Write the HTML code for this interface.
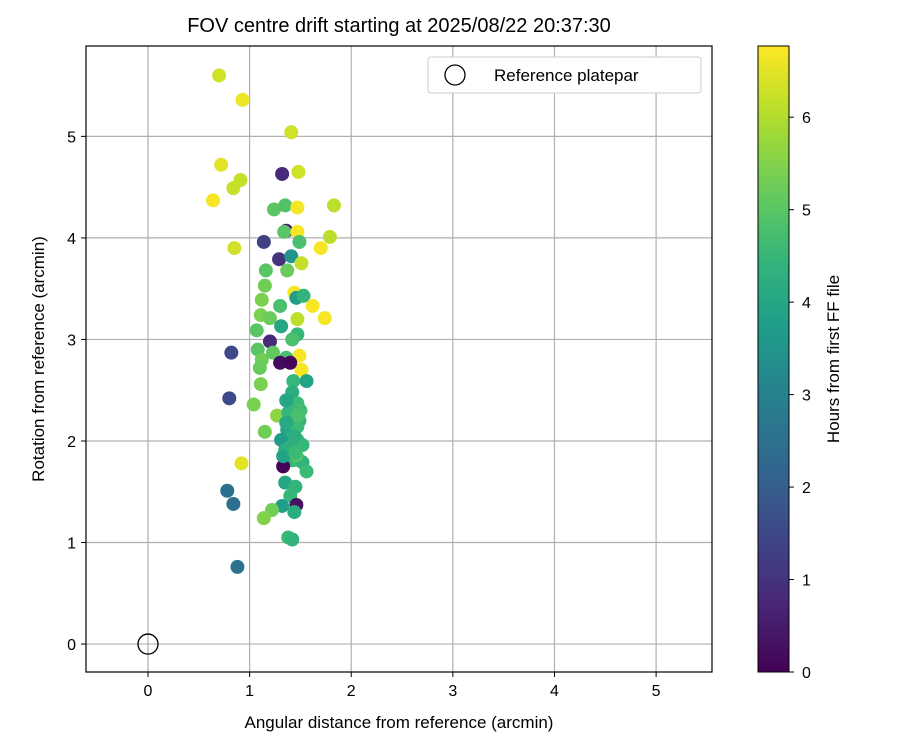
<!DOCTYPE html>
<html><head><meta charset="utf-8"><style>
body{margin:0;background:#fff;}
svg text{font-family:"Liberation Sans","DejaVu Sans",sans-serif;fill:#000;}
</style></head><body>
<svg id="chart" width="900" height="750" xmlns="http://www.w3.org/2000/svg">
<rect width="900" height="750" fill="#fff"/>
<text x="399" y="32" font-size="20" text-anchor="middle">FOV centre drift starting at 2025/08/22 20:37:30</text>
<g id="grid"></g>
<g id="pts"></g>
<circle id="refm" r="10" fill="none" stroke="#000" stroke-width="1.3"/>
<rect x="86" y="46" width="626" height="626" fill="none" stroke="#000" stroke-width="1.2"/>
<g id="ticks"></g>
<text x="399" y="728" font-size="17" text-anchor="middle">Angular distance from reference (arcmin)</text>
<text transform="translate(44,359) rotate(-90)" font-size="17" text-anchor="middle">Rotation from reference (arcmin)</text>
<g>
<rect x="428" y="57" width="273" height="36" rx="3" fill="#fff" stroke="#ccc"/>
<circle cx="455" cy="75" r="10" fill="none" stroke="#000" stroke-width="1.3"/>
<text x="494" y="81" font-size="17">Reference platepar</text>
</g>
<defs><linearGradient id="vir" x1="0" y1="1" x2="0" y2="0"></linearGradient></defs>
<rect x="758" y="46" width="31" height="626" fill="url(#vir)" stroke="#000" stroke-width="1"/>
<g id="cticks"></g>
<text transform="translate(839,359) rotate(-90)" font-size="17" text-anchor="middle">Hours from first FF file</text>
</svg>
<script>
const xs=[0.70,0.93,1.41,0.72,1.32,1.48,0.91,0.84,0.64,1.83,1.24,1.35,1.47,1.36,1.34,1.47,1.79,1.70,0.85,1.14,1.49,1.29,1.41,1.51,1.37,1.16,1.15,1.12,1.44,1.46,1.53,1.62,1.74,1.47,1.11,1.20,1.31,1.07,1.30,1.47,1.42,1.20,0.82,1.08,1.12,1.23,1.49,1.36,1.10,1.51,1.30,1.40,1.56,1.43,1.11,0.80,1.42,1.04,1.27,1.42,1.47,1.15,1.40,1.49,1.37,1.38,1.47,1.31,1.52,1.40,1.42,1.49,1.33,1.52,1.35,1.46,1.56,0.92,0.78,0.84,1.35,1.45,1.40,1.46,1.44,1.32,1.22,1.14,1.38,1.42,0.88,1.38,1.47,1.36,1.44,1.50,1.33,1.41,1.48,1.36,1.45];
const ys=[5.60,5.36,5.04,4.72,4.63,4.65,4.57,4.49,4.37,4.32,4.28,4.32,4.30,4.07,4.06,4.06,4.01,3.90,3.90,3.96,3.96,3.79,3.82,3.75,3.68,3.68,3.53,3.39,3.46,3.41,3.43,3.33,3.21,3.20,3.24,3.21,3.13,3.09,3.33,3.05,3.00,2.98,2.87,2.90,2.80,2.87,2.84,2.82,2.72,2.70,2.77,2.77,2.59,2.59,2.56,2.42,2.48,2.36,2.25,2.32,2.37,2.09,2.20,2.20,2.11,2.00,2.01,2.01,1.96,1.91,1.81,1.81,1.75,1.79,1.91,1.86,1.70,1.78,1.51,1.38,1.59,1.55,1.46,1.37,1.30,1.36,1.32,1.24,1.05,1.03,0.76,2.28,2.14,2.40,2.05,2.30,1.85,1.95,2.25,2.18,1.88];
const hours=[6.3,6.6,6.3,6.5,0.8,6.3,6.2,6.2,6.7,6.1,5.0,4.9,6.7,0.5,5.0,6.7,6.1,6.7,6.3,1.3,4.8,1.0,3.5,6.2,5.2,5.0,5.3,5.4,6.7,3.7,4.4,6.7,6.7,6.1,5.4,5.2,4.0,5.0,4.8,4.5,4.8,0.8,1.5,5.0,5.3,5.1,6.7,4.8,5.2,6.7,0.2,0.1,3.9,4.5,5.4,1.5,4.2,5.4,5.6,4.5,4.6,5.3,4.5,4.4,4.0,4.3,4.6,3.7,4.5,4.1,4.5,4.7,0.1,4.4,4.3,5.0,4.6,6.5,2.5,2.5,4.0,4.4,4.5,0.3,4.2,3.8,5.3,5.5,4.6,4.4,2.6,4.5,4.6,4.0,4.2,4.7,3.9,4.3,4.8,4.1,4.6];
const xTicks=[0,1,2,3,4,5];
const yTicks=[0,1,2,3,4,5];
const cTicks=[0,1,2,3,4,5,6];
const X0=86,X1=712,Y0=46,Y1=672,xmin=-0.61,xmax=5.55,ymin=-0.275,ymax=5.89,cmax=6.77;
const sx=v=>X0+(v-xmin)/(xmax-xmin)*(X1-X0);
const sy=v=>Y1-(v-ymin)/(ymax-ymin)*(Y1-Y0);
const sc=v=>Y1-v/cmax*(Y1-Y0);
const V=[[68,1,84],[72,40,120],[62,73,137],[49,104,142],[38,130,142],[31,158,137],[53,183,121],[109,205,89],[180,222,44],[253,231,37]];
function vir(t){t=Math.max(0,Math.min(1,t))*9;const i=Math.min(8,Math.floor(t)),f=t-i;const c=V[i].map((a,k)=>Math.round(a+(V[i+1][k]-a)*f));return `rgb(${c})`;}
const NS="http://www.w3.org/2000/svg";
function mk(tag,attrs,parent){const e=document.createElementNS(NS,tag);for(const k in attrs)e.setAttribute(k,attrs[k]);parent.appendChild(e);return e;}
const grid=document.getElementById('grid'),ticks=document.getElementById('ticks');
xTicks.forEach(t=>{const x=sx(t);
const g=mk('line',{x1:x,x2:x,y1:Y0,y2:Y1,stroke:'#b0b0b0','stroke-width':1.2},grid);


mk('line',{x1:x,x2:x,y1:Y1,y2:Y1+5,stroke:'#000'},ticks);
const l=mk('text',{x:x,y:Y1+24,'font-size':16,'text-anchor':'middle'},ticks);l.textContent=t;

});
yTicks.forEach(t=>{const y=sy(t);
const g=mk('line',{x1:X0,x2:X1,y1:y,y2:y,stroke:'#b0b0b0','stroke-width':1.2},grid);


mk('line',{x1:X0-5,x2:X0,y1:y,y2:y,stroke:'#000'},ticks);
const l=mk('text',{x:X0-10,y:y+6,'font-size':16,'text-anchor':'end'},ticks);l.textContent=t;

});
const pts=document.getElementById('pts');
xs.forEach((v,i)=>{const c=mk('circle',{cx:sx(v),cy:sy(ys[i]),r:7,fill:vir(hours[i]/cmax)},pts);

});
const rm=document.getElementById('refm');rm.setAttribute('cx',sx(0));rm.setAttribute('cy',sy(0));
const gr=document.getElementById('vir');
for(let i=0;i<=20;i++){mk('stop',{offset:i/20,'stop-color':vir(i/20)},gr);}
const ct=document.getElementById('cticks');
cTicks.forEach(t=>{const y=sc(t);mk('line',{x1:789,x2:794,y1:y,y2:y,stroke:'#000'},ct);
const l=mk('text',{x:802,y:y+6,'font-size':16},ct);l.textContent=t;

});
</script>
</body></html>
